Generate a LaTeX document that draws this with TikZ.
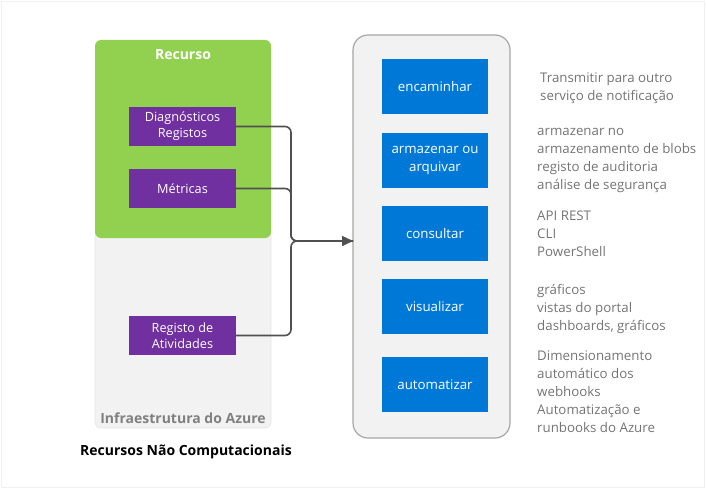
\documentclass[tikz,border=0pt]{standalone}
\usepackage{fontspec}
\setmainfont{Open Sans}
\usetikzlibrary{arrows.meta}
\definecolor{greenres}{HTML}{92D050}
\definecolor{purplebox}{HTML}{7030A0}
\definecolor{bluebox}{HTML}{0078D7}
\definecolor{panel}{HTML}{F2F2F2}
\definecolor{panelborder}{HTML}{A6A6A6}
\definecolor{conn}{HTML}{505050}
\definecolor{desc}{HTML}{747474}
\tikzset{
  purplenode/.style={fill=purplebox, draw=none, text=white, minimum width=107pt, minimum height=39pt, align=center, inner sep=0pt, font=\fontsize{12.7}{16}\selectfont},
  bluenode/.style={fill=bluebox, draw=none, text=white, minimum width=106pt, minimum height=55pt, align=center, inner sep=0pt, font=\fontsize{13.3}{18}\selectfont},
  desctext/.style={text=desc, anchor=north west, align=left, inner sep=0pt, font=\fontsize{13.3}{18}\selectfont},
  titletext/.style={inner sep=0pt, font=\fontsize{14}{16}\selectfont\bfseries},
  connector/.style={draw=conn, line width=1.6pt, rounded corners=6pt},
}
\begin{document}
\begin{tikzpicture}[x=1pt,y=-1pt]
\useasboundingbox (0,0) rectangle (706,489);
\draw[draw=black!6, line width=0.8pt] (1,1) rectangle (704,487);
% left containers
\path[fill=panel, draw=black!10, line width=0.6pt, rounded corners=6pt] (95,230) rectangle (271,428);
\path[fill=greenres, rounded corners=6pt] (95,40) rectangle (271,238);
\node[titletext, text=white] (recurso) at (183,55) {Recurso};
\node[titletext, text=black!50] (infra) at (183,418) {Infraestrutura do Azure};
\node[titletext, text=black] (naocomp) at (186,452) {Recursos Não Computacionais};
% purple
\node[purplenode] (diag) at (182.5,126.5) {Diagnósticos\\Registos};
\node[purplenode] (metr) at (182.5,188.5) {Métricas};
\node[purplenode] (ativ) at (182.5,335.5) {Registo de\\Atividades};
% right panel
\path[fill=panel, draw=panelborder, line width=1.2pt, rounded corners=15pt] (353,35) rectangle (510,438);
\coordinate (target) at (353,241);
% blue
\node[bluenode] (enc) at (435,86.5) {encaminhar};
\node[bluenode] (arm) at (435,160.5) {armazenar ou\\arquivar};
\node[bluenode] (cons) at (435,233.5) {consultar};
\node[bluenode] (vis) at (435,306.5) {visualizar};
\node[bluenode] (aut) at (435,384.5) {automatizar};
% descriptions
\node[desctext] (d1) at (540,73) {Transmitir para outro\\serviço de notificação};
\node[desctext] (d2) at (537,128) {armazenar no\\armazenamento de blobs\\registo de auditoria\\análise de segurança};
\node[desctext] (d3) at (537,211) {API REST\\CLI\\PowerShell};
\node[desctext] (d4) at (537,284) {gráficos\\vistas do portal\\dashboards, gráficos};
\node[desctext] (d5) at (537,351) {Dimensionamento\\automático dos\\webhooks\\Automatização e\\runbooks do Azure};
% connectors
\draw[connector] (diag.east) -- (291,126.5) -- (291,241) -- (target);
\draw[connector] (metr.east) -- (291,188.5) -- (291,241) -- (target);
\draw[connector, -{Triangle[length=11pt,width=10pt]}] (ativ.east) -- (291,335.5) -- (291,241) -- (target);
\end{tikzpicture}
\end{document}
